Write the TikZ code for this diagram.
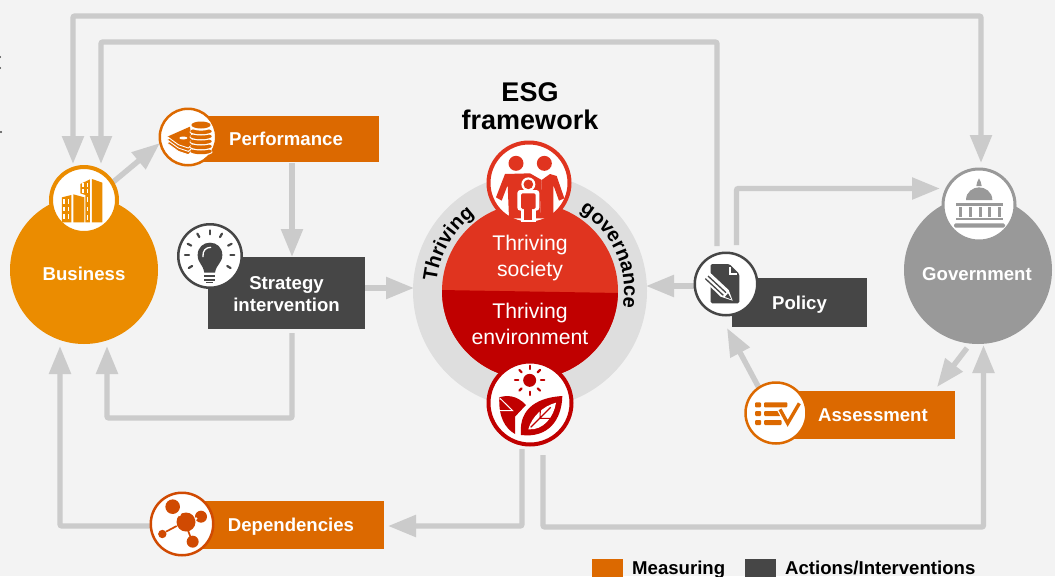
\documentclass[tikz,border=0pt]{standalone}
\usepackage{fontspec}
\setmainfont{Liberation Sans}
\usetikzlibrary{arrows.meta,decorations.text,calc}
\definecolor{bgc}{HTML}{F3F3F3}
\definecolor{conn}{HTML}{CBCBCB}
\definecolor{ringc}{HTML}{DEDEDE}
\definecolor{orngA}{HTML}{DC6900}
\definecolor{orngB}{HTML}{EB8C00}
\definecolor{orngC}{HTML}{D04A02}
\definecolor{darkc}{HTML}{464646}
\definecolor{greyc}{HTML}{999999}
\definecolor{redA}{HTML}{E0341F}
\definecolor{redB}{HTML}{C00000}
\newcommand{\lblfont}{\bfseries\fontsize{18.6}{22}\selectfont}
\newcommand{\ringfont}{\bfseries\fontsize{20}{24}\selectfont}
\newcommand{\ringfontb}{\bfseries\fontsize{20}{24}\selectfont}
\tikzset{
  conline/.style={draw=conn,line width=5.4pt,rounded corners=2pt},
  conarrow/.style={conline,-{Triangle[length=28pt,width=21pt]}},
  condouble/.style={conline,{Triangle[length=28pt,width=21pt]}-{Triangle[length=28pt,width=21pt]}},
  bigcircle/.style={circle,minimum size=148pt,inner sep=0pt},
  iconring/.style={circle,fill=white,inner sep=0pt},
  labelbox/.style={rectangle,inner sep=0pt,text=white,font=\lblfont,align=center},
  oneline/.style={text height=13.4pt,text depth=0pt},
  plaintext/.style={inner sep=0pt,align=center},
  zA/.style={x=0.33333pt,y=-0.33333pt},
  zB/.style={shift={(400,70)},x=0.33333pt,y=-0.33333pt},
  zC/.style={shift={(680,150)},x=0.33333pt,y=-0.33333pt},
  zD/.style={shift={(130,480)},x=0.33333pt,y=-0.33333pt},
  zE/.style={shift={(155,104)},x=0.33333pt,y=-0.33333pt},
  zF/.style={shift={(690,250)},x=0.33333pt,y=-0.33333pt},
  zG/.style={shift={(485,140)},x=0.33333pt,y=-0.33333pt},
}
\begin{document}
\begin{tikzpicture}[x=1pt,y=-1pt]
\useasboundingbox (0,0) rectangle (1055,576);
\fill[bgc] (0,0) rectangle (1055,576);
% stray marks at the left edge
\fill[darkc] (0,57) circle (1.1pt) (0,68) circle (1.1pt) (1,132) circle (1.1pt);

% free ends of connectors
\coordinate (bizA) at (73,164);
\coordinate (bizB) at (101,164);
\coordinate (bizC) at (60,346);
\coordinate (bizD) at (107,346);
\coordinate (bizOut) at (112,183);
\coordinate (perfIn) at (160,143);
\coordinate (govTop) at (981,163);
\coordinate (govLeft) at (940,188.5);
\coordinate (govBot) at (983.5,345);
\coordinate (govOut) at (967,348);
\coordinate (assIn) at (937,387);
\coordinate (assOut) at (759,388);
\coordinate (polIn) at (727,328);
\coordinate (polA) at (717,246);
\coordinate (polB) at (736.5,245);
\coordinate (polC) at (694,286);
\coordinate (esgR) at (646,286);
\coordinate (esgL) at (414,288);
\coordinate (stratOutR) at (365,288);
\coordinate (stratOutB) at (292,333);
\coordinate (stratIn) at (292,257);
\coordinate (perfOut) at (292,163);
\coordinate (esgA) at (522,449);
\coordinate (esgB) at (543,455);
\coordinate (depIn) at (388,526);
\coordinate (depOut) at (150,526);

% connectors
\draw[condouble] (govTop) -- (981,16) -- (73,16) -- (bizA);
\draw[conarrow] (polA) -- (717,42) -- (101,42) -- (bizB);
\draw[conarrow] (polB) -- (736.5,188.5) -- (govLeft);
\draw[conarrow] (bizOut) -- (perfIn);
\draw[conarrow] (perfOut) -- (stratIn);
\draw[conarrow] (stratOutR) -- (esgL);
\draw[conarrow] (stratOutB) -- (292,418) -- (107,418) -- (bizD);
\draw[conarrow] (depOut) -- (60,526) -- (bizC);
\draw[conarrow] (esgA) -- (522,526) -- (depIn);
\draw[conarrow] (esgB) -- (543,527) -- (983.5,527) -- (govBot);
\draw[conarrow] (govOut) -- (assIn);
\draw[conarrow] (assOut) -- (polIn);
\draw[conarrow] (polC) -- (esgR);

% label boxes
\node[labelbox,oneline,fill=orngA,minimum width=186pt,minimum height=46pt] (perf) at (286,139) {Performance};
\node[labelbox,fill=darkc,minimum width=157pt,minimum height=72pt] (strat) at (286.5,293) {\rule{0pt}{15.4pt}Strategy\\intervention};
\node[labelbox,oneline,fill=darkc,minimum width=135pt,minimum height=49pt] (policy) at (799.5,302.5) {Policy};
\node[labelbox,oneline,fill=orngA,minimum width=164pt,minimum height=48pt] (assess) at (873,415) {Assessment};
\node[labelbox,oneline,fill=orngA,minimum width=186pt,minimum height=48pt] (depend) at (291,525) {Dependencies};

% big circles
\node[bigcircle,fill=orngB] (business) at (84,270) {};
\node[plaintext,oneline,text=white,font=\lblfont] (businesslbl) at (84,273.3) {Business};
\node[bigcircle,fill=greyc] (government) at (978,270) {};
\node[plaintext,oneline,text=white,font=\lblfont] (governmentlbl) at (977,273.3) {Government};

% ESG centre
\node[plaintext,font=\bfseries\fontsize{27}{28}\selectfont] (esgtitle) at (530,106) {ESG\\framework};
\node[circle,fill=ringc,minimum size=234pt,inner sep=0pt] (ring) at (530,291) {};
\node[circle,fill=redA,minimum size=176pt,inner sep=0pt] (inner) at (530,291) {};
\begin{scope}
  \clip (530,291) circle (88pt);
  \fill[redB] (440,290) -- (620,293) -- (620,382) -- (440,382) -- cycle;
\end{scope}
\path[decorate,decoration={text along path,text align=center,text={|\ringfont|Thriving}}]
  (530,291) ++(182:94) arc (182:238:94);
\path[decorate,decoration={text along path,text align=center,text={|\ringfontb|governance}}]
  (530,291) ++(300:94) arc (300:372:94);
\node[plaintext,text=white,font=\fontsize{21.2}{26}\selectfont] (soc) at (530,258) {Thriving\\society};
\node[plaintext,text=white,font=\fontsize{21.2}{26}\selectfont] (env) at (530,324) {Thriving\\environment};

% icon rings
\node[iconring,draw=orngB,line width=4pt,minimum size=66pt] (bizicon) at (84,200) {};
\node[iconring,draw=orngA,line width=2.5pt,minimum size=56.5pt] (perficon) at (188,137) {};
\node[iconring,draw=darkc,line width=2.5pt,minimum size=63.5pt] (stratCirc) at (210,256) {};
\node[iconring,draw=redA,line width=4pt,minimum size=81pt] (socicon) at (529,183) {};
\node[iconring,draw=redB,line width=4pt,minimum size=83pt] (envicon) at (530,403) {};
\node[iconring,draw=greyc,line width=3pt,minimum size=72pt] (govicon) at (979,205) {};
\node[iconring,draw=darkc,line width=2.5pt,minimum size=62.5pt] (policon) at (726,284) {};
\node[iconring,draw=orngA,line width=2.5pt,minimum size=61pt] (assicon) at (776,413) {};
\node[iconring,draw=orngC,line width=2.5pt,minimum size=62.5pt] (depicon) at (182,524) {};

% --- building icon
\begin{scope}[zA]
  \fill[orngB] (186,592) -- (214,585) -- (214,667) -- (186,667) -- cycle;
  \fill[orngB] (220,583) -- (253,592) -- (253,667) -- (220,667) -- cycle;
  \fill[orngB] (241,552) -- (270,538) -- (270,667) -- (256,667) -- (256,585) -- (241,580) -- cycle;
  \fill[orngB] (276,537) -- (307,548) -- (307,667) -- (276,667) -- cycle;
  \foreach \yy in {598,620,642}{
    \fill[white] (190,\yy) rectangle (195,\yy+14);
    \fill[white] (203,\yy) rectangle (208,\yy+14);
  }
  \foreach \yy in {548,568}{
    \fill[white] (247,\yy) rectangle (252,\yy+12);
    \fill[white] (260,\yy) rectangle (265,\yy+12);
  }
  \foreach \yy in {592,620,645}{
    \fill[white] (260,\yy) rectangle (265,\yy+14);
  }
\end{scope}
% --- coins and notes icon
\begin{scope}[zE]
  \foreach \yy in {20,10,0}{
    \fill[orngA] (37,98+\yy) -- (105,68+\yy) -- (112,122+\yy) -- (100,132+\yy) -- (70,122+\yy) -- cycle;
    \draw[white,line width=0.9pt] (37,98+\yy) -- (70,122+\yy) -- (100,132+\yy) -- (112,122+\yy);
  }
  \fill[white] (85,102) ellipse (4pt and 1.5pt);
  \foreach \yy in {138,123,108,93,78}{
    \fill[white] (138,\yy+6) ellipse (11.5pt and 3.5pt);
    \fill[orngA] (138,\yy+4) ellipse (10.8pt and 2.9pt);
  }
  \fill[white] (138,68) ellipse (10.5pt and 4pt);
  \fill[orngA] (138,63) ellipse (9.6pt and 3.5pt);
\end{scope}
% --- bulb icon
\begin{scope}[zA]
  \fill[darkc] (613,818) .. controls (608,790) and (593,790) .. (593,765)
     .. controls (593,742) and (610,728) .. (630,728)
     .. controls (650,728) and (667,742) .. (667,765)
     .. controls (667,790) and (650,790) .. (645,818) -- cycle;
  \draw[white,line width=1.3pt,line cap=round] (609,770) .. controls (607,752) and (618,742) .. (632,742);
  \fill[darkc] (613,826) rectangle (645,832);
  \fill[darkc] (613,836) rectangle (645,842);
  \fill[darkc] (618,845) rectangle (640,850);
  \foreach \aa in {148,180,207,240,270,300,333,360,32}{
    \draw[darkc,line width=2.2pt,line cap=round] (629,765) ++(\aa:62) -- ++(\aa:12);
  }
\end{scope}
% --- people icon
\begin{scope}[zG]
  \fill[redA] (93,70) circle (7.5pt);
  \fill[redA] (178,70) circle (7.5pt);
  \fill[redA] (60,102) -- (135,100) -- (170,120) -- (165,235) -- (72,235) -- (68,135) -- (50,182) -- (33,172) -- cycle;
  \fill[redA] (170,120) -- (195,102) -- (215,108) -- (238,175) -- (222,182) -- (205,135) -- (205,235) -- (165,235) -- cycle;
  \fill[white] (130,133) circle (7pt);
  \fill[redA] (130,133) circle (4.8pt);
  \fill[white,rounded corners=3pt] (97,150) rectangle (163,212);
  \fill[white] (107,205) rectangle (153,245);
  \fill[redA,rounded corners=1.5pt] (108,160) rectangle (152,207);
  \fill[redA] (118,200) rectangle (142,240);
\end{scope}
% --- sun and leaf icon
\begin{scope}[zB]
  \fill[redB] (389,931) circle (6.5pt);
  \foreach \aa in {0,45,...,315}{
    \draw[redB,line width=2.2pt,line cap=round] (389,931) ++(\aa:34) -- ++(\aa:10);
  }
  \fill[redB] (298,982) .. controls (320,975) and (350,975) .. (378,1005)
     -- (345,1040) -- (345,1092) .. controls (315,1075) and (295,1040) .. (298,982) -- cycle;
  \draw[white,line width=1pt] (300,985) -- (338,1022) -- (295,1022);
  \fill[redB] (363,1095) .. controls (355,1010) and (420,982) .. (487,978)
     .. controls (485,1050) and (445,1105) .. (363,1095) -- cycle;
  \fill[white] (385,1078) .. controls (395,1040) and (430,1008) .. (468,998)
     .. controls (462,1040) and (430,1082) .. (385,1078) -- cycle;
  \draw[redB,line width=1.1pt] (392,1072) -- (452,1012) (420,1045) -- (421,1018) (420,1045) -- (450,1045);
\end{scope}
% --- government icon
\begin{scope}[zC]
  \fill[greyc] (858,150) .. controls (858,125) and (880,112) .. (897,112) .. controls (915,112) and (937,125) .. (937,150) -- cycle;
  \fill[greyc] (889,108) .. controls (889,98) and (893,95) .. (897,85) .. controls (901,95) and (905,98) .. (905,108) -- cycle;
  \fill[greyc] (828,159) rectangle (968,167);
  \foreach \xx in {838,866,896,924,954}{
    \fill[greyc] (\xx,172) rectangle (\xx+9,200);
  }
  \fill[greyc] (828,203) rectangle (968,211);
  \fill[greyc,rounded corners=1.5pt] (822,220) rectangle (975,233);
\end{scope}
% --- policy icon
\begin{scope}[zF]
  \fill[darkc,rounded corners=1.5pt] (62,42) -- (118,42) -- (148,72) -- (148,160) -- (62,160) -- cycle;
  \draw[white,line width=1.2pt] (120,52) -- (120,72) -- (140,72);
  \fill[white] (58,66) -- (116,120) -- (128,152) -- (92,140) -- (38,88) -- cycle;
  \draw[darkc,line width=1.3pt] (54,78) -- (108,128) (46,86) -- (100,136);
  \fill[darkc] (114,130) -- (124,148) -- (105,141) -- cycle;
\end{scope}
% --- assessment icon
\begin{scope}[zC]
  \foreach \yy in {757,783,810}{
    \fill[orngA,rounded corners=1pt] (225,\yy) rectangle (243,\yy+15);
  }
  \fill[orngA,rounded corners=1pt] (252,757) rectangle (322,772);
  \fill[orngA,rounded corners=1pt] (252,783) rectangle (305,798);
  \fill[orngA,rounded corners=1pt] (252,810) rectangle (305,825);
  \draw[white,line width=6pt] (300,778) -- (323,820) -- (358,760);
  \draw[orngA,line width=3.4pt] (300,778) -- (323,820) -- (358,760);
\end{scope}
% --- dependencies icon
\begin{scope}[zD]
  \draw[orngC,line width=1.7pt] (108,155) -- (140,138) (172,146) -- (183,175);
  \fill[orngC] (128,80) circle (7.3pt);
  \fill[orngC] (168,126) circle (9.5pt);
  \fill[orngC] (213,110) circle (6pt);
  \fill[orngC] (97,162) circle (4.2pt);
  \fill[orngC] (188,185) circle (6pt);
  \fill[white] (149,104) circle (1.5pt) (198,116) circle (1.5pt);
\end{scope}

% legend
\node[rectangle,fill=orngA,minimum width=31pt,minimum height=18pt,inner sep=0pt] (keyA) at (607.5,568) {};
\node[rectangle,fill=darkc,minimum width=31pt,minimum height=18pt,inner sep=0pt] (keyB) at (760.5,568) {};
\node[plaintext,anchor=base west,font=\lblfont] (keyAl) at (632,574) {Measuring};
\node[plaintext,anchor=base west,font=\lblfont] (keyBl) at (785,574) {Actions/Interventions};
\end{tikzpicture}
\end{document}
